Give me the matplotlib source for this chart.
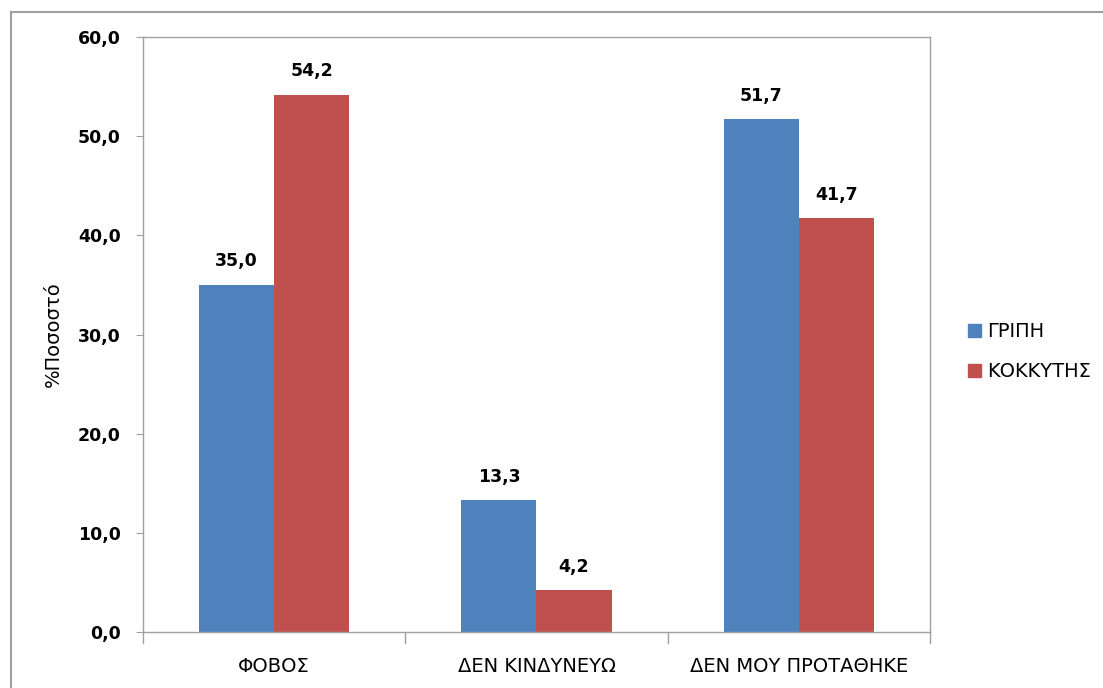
import matplotlib
matplotlib.use("Agg")
import matplotlib.pyplot as plt
import numpy as np
from matplotlib.lines import Line2D

plt.rcParams['font.family'] = ['DejaVu Sans']

categories = ["ΦΟΒΟΣ", "ΔΕΝ ΚΙΝΔΥΝΕΥΩ", "ΔΕΝ ΜΟΥ ΠΡΟΤΑΘΗΚΕ"]
gripi = [35.0, 13.3, 51.7]
kokkytis = [54.2, 4.2, 41.7]
series_names = ["ΓΡΙΠΗ", "ΚΟΚΚΥΤΗΣ"]
yticks = [0, 10, 20, 30, 40, 50, 60]

blue = "#4F81BD"
red = "#C0504D"
grey = "#A0A0A0"

fig = plt.figure(figsize=(11.03, 6.88), dpi=100)
ax = fig.add_axes([0.1296, 0.0814, 0.7136, 0.8648])

x = np.arange(len(categories))
w = 0.286
b1 = ax.bar(x - w / 2, gripi, w, color=blue, label=series_names[0])
b2 = ax.bar(x + w / 2, kokkytis, w, color=red, label=series_names[1])

for bars, vals in ((b1, gripi), (b2, kokkytis)):
    for r, v in zip(bars, vals):
        ax.annotate(f"{v:.1f}".replace(".", ","),
                    (r.get_x() + r.get_width() / 2, v),
                    xytext=(0, 10.5), textcoords="offset points",
                    ha="center", va="bottom", fontsize=12.5, fontweight="bold")

ax.set_xlim(-0.5, 2.5)
ax.set_ylim(0, 60)
ax.set_yticks(yticks)
ax.set_yticklabels([f"{t:.1f}".replace(".", ",") for t in yticks],
                   fontsize=12.5, fontweight="bold")
ax.set_xticks(x)
ax.set_xticklabels(categories, fontsize=14)
ax.tick_params(axis="x", length=0, pad=18)
ax.tick_params(axis="y", length=5, color=grey, pad=11, direction="out")
# category separators on x axis
for xb in [-0.5, 0.5, 1.5, 2.5]:
    ax.plot([xb, xb], [0, -0.018], transform=ax.get_xaxis_transform(),
            color=grey, lw=1, clip_on=False)

for s in ax.spines.values():
    s.set_color(grey)
    s.set_linewidth(1)

ax.set_ylabel("%Ποσοστό", fontsize=14)
ax.yaxis.set_label_coords(-0.102, 0.5)

handles = [plt.Rectangle((0, 0), 1, 1, color=blue),
           plt.Rectangle((0, 0), 1, 1, color=red)]
fig.legend(handles, series_names, loc="center left",
           bbox_to_anchor=(0.878, 0.489), frameon=False, fontsize=14,
           handlelength=0.65, handleheight=0.65, handletextpad=0.3,
           labelspacing=1.1, borderaxespad=0, borderpad=0)

# outer chart frame (top and left edges visible)
fig.add_artist(Line2D([11 / 1103, 11 / 1103], [0, 1 - 12 / 688],
                      transform=fig.transFigure, color=grey, lw=1.5))
fig.add_artist(Line2D([11 / 1103, 1], [1 - 12 / 688, 1 - 12 / 688],
                      transform=fig.transFigure, color=grey, lw=1.5))

fig.savefig("out.png", dpi=100)
